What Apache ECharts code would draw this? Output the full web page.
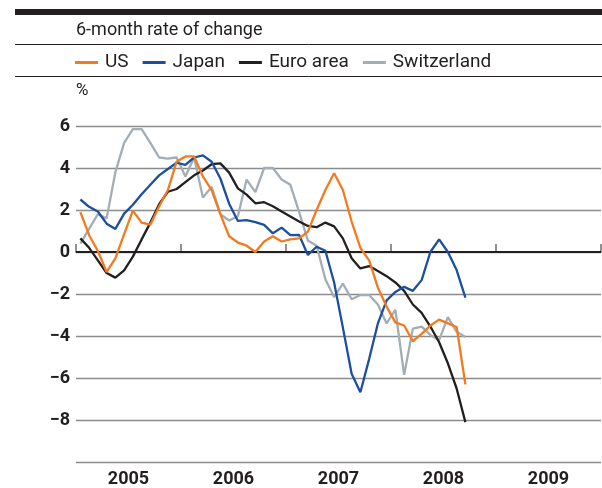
<!DOCTYPE html>
<html>
<head>
    <meta charset="utf-8" />
    <title>6-month rate of change</title>
    <style>
        html, body {
            margin: 0;
            padding: 0;
            background: #fff;
        }

        #chart {
            width: 602px;
            height: 488px;
        }
    </style>
    <script src="https://cdn.jsdelivr.net/npm/echarts@6/dist/echarts.min.js"></script>
</head>
<body>
    <div id="chart"></div>
    <script>
        // monthly values, Jan 2005 .. Sep 2008, %
        var years = ['2005', '2006', '2007', '2008', '2009'];
        var yTicks = [-10, -8, -6, -4, -2, 0, 2, 4, 6];

        var us = [1.9, 0.8, 0.05, -0.95, -0.3, 0.85, 1.97, 1.4, 1.3, 2.17, 2.95, 4.3,
            4.55, 4.55, 3.6, 2.95, 1.8, 0.75, 0.45, 0.3, 0.0, 0.5, 0.75, 0.5,
            0.6, 0.65, 0.97, 2.0, 2.95, 3.75, 2.95, 1.45, 0.2, -0.4, -1.7, -2.6,
            -3.35, -3.5, -4.25, -3.9, -3.5, -3.22, -3.4, -3.57, -6.3];
        var japan = [2.5, 2.15, 1.93, 1.35, 1.1, 1.83, 2.25, 2.75, 3.2, 3.65, 3.95, 4.25,
            4.15, 4.5, 4.6, 4.3, 3.5, 2.3, 1.48, 1.52, 1.42, 1.29, 0.89, 1.16,
            0.8, 0.81, -0.14, 0.25, 0.06, -1.45, -3.6, -5.8, -6.68, -5.1, -3.4, -2.3,
            -1.9, -1.66, -1.85, -1.34, 0.0, 0.6, 0.0, -0.86, -2.17];
        var euro = [0.65, 0.2, -0.4, -1.0, -1.22, -0.88, -0.22, 0.6, 1.4, 2.28, 2.87, 3.0,
            3.33, 3.65, 3.88, 4.18, 4.22, 3.78, 3.03, 2.73, 2.32, 2.37, 2.18, 1.93,
            1.69, 1.45, 1.24, 1.18, 1.4, 1.22, 0.65, -0.3, -0.78, -0.67, -0.9, -1.15,
            -1.45, -1.85, -2.5, -2.9, -3.55, -4.3, -5.3, -6.5, -8.1];
        var swiss = [0.4, 1.1, 1.8, 1.6, 3.8, 5.2, 5.85, 5.85, 5.2, 4.5, 4.45, 4.5,
            3.6, 4.5, 2.6, 3.1, 1.8, 1.5, 1.7, 3.45, 2.85, 4.0, 4.0, 3.45,
            3.2, 1.9, 0.55, 0.3, -1.3, -2.15, -1.5, -2.25, -2.05, -2.05, -2.5, -3.4,
            -2.75, -5.85, -3.65, -3.55, -3.95, -4.2, -3.1, -3.8, -4.05];

        var names = ['US', 'Japan', 'Euro area', 'Switzerland'];
        var colors = ['#f47a20', '#1c4f9f', '#231f20', '#a3adb5'];

        var font = 'Roboto';
        var ink = '#231f20';

        function toPoints(arr) {
            // month i sits in the middle of its month slot
            return arr.map(function (v, i) { return [i + 0.5, v]; });
        }

        var myChart = echarts.init(document.getElementById('chart'), null, { renderer: 'canvas' });

        var seriesData = [us, japan, euro, swiss];
        var series = [];
        for (var i = seriesData.length - 1; i >= 0; i--) {
            series.push({
                name: names[i],
                type: 'line',
                xAxisIndex: 0,
                data: toPoints(seriesData[i]),
                showSymbol: false,
                symbol: 'none',
                color: colors[i],
                lineStyle: { width: 2.3, color: colors[i] },
                z: 10 - i,
                animation: false
            });
        }
        // zero line
        series.push({
            type: 'line',
            data: [],
            silent: true,
            animation: false,
            markLine: {
                silent: true,
                symbol: 'none',
                label: { show: false },
                lineStyle: { color: ink, width: 2.2, type: 'solid' },
                data: [{ yAxis: 0 }],
                z: 5
            }
        });

        var option = {
            animation: false,
            backgroundColor: '#fff',
            grid: { left: 76, right: 1, top: 126, bottom: 26 },
            legend: {
                data: names,
                left: 70,
                top: 48,
                icon: 'rect',
                itemWidth: 23,
                itemHeight: 3,
                itemGap: 14,
                textStyle: { fontFamily: font, fontSize: 19, color: ink, padding: [0, 0, 0, 2] }
            },
            xAxis: [
                {
                    type: 'value',
                    min: 0,
                    max: 60,
                    interval: 12,
                    axisLine: { show: true, lineStyle: { color: '#6d6e70', width: 1.5 } },
                    axisTick: { show: true, inside: true, length: 8, lineStyle: { color: '#6d6e70', width: 1.5 } },
                    axisLabel: { show: false },
                    splitLine: { show: false }
                },
                {
                    type: 'category',
                    data: years,
                    boundaryGap: true,
                    position: 'bottom',
                    axisLine: { show: false },
                    axisTick: { show: false },
                    axisLabel: { fontFamily: font, fontSize: 18, fontWeight: 'bold', color: ink, margin: 8 }
                }
            ],
            yAxis: {
                type: 'value',
                min: yTicks[0],
                max: yTicks[yTicks.length - 1],
                interval: 2,
                axisLine: { show: false },
                axisTick: { show: false },
                axisLabel: {
                    fontFamily: font,
                    fontSize: 18,
                    fontWeight: 'bold',
                    color: ink,
                    margin: 6,
                    formatter: function (v) {
                        if (v === yTicks[0]) return '';
                        return String(v).replace('-', '\u2212');
                    }
                },
                splitLine: { lineStyle: { color: '#8a8b8d', width: 1.4 } }
            },
            graphic: [
                { type: 'rect', shape: { x: 15, y: 9, width: 587, height: 6 }, style: { fill: ink } },
                { type: 'text', left: 76, top: 21, style: { text: '6-month rate of change', font: '18px ' + font, fill: ink } },
                { type: 'line', shape: { x1: 15, y1: 44.5, x2: 602, y2: 44.5 }, style: { stroke: ink, lineWidth: 1 } },
                { type: 'line', shape: { x1: 15, y1: 76.5, x2: 602, y2: 76.5 }, style: { stroke: ink, lineWidth: 1 } },
                { type: 'text', left: 76, top: 82, style: { text: '%', font: '17px ' + font, fill: ink } }
            ],
            series: series
        };
        myChart.setOption(option);
    </script>
</body>
</html>
